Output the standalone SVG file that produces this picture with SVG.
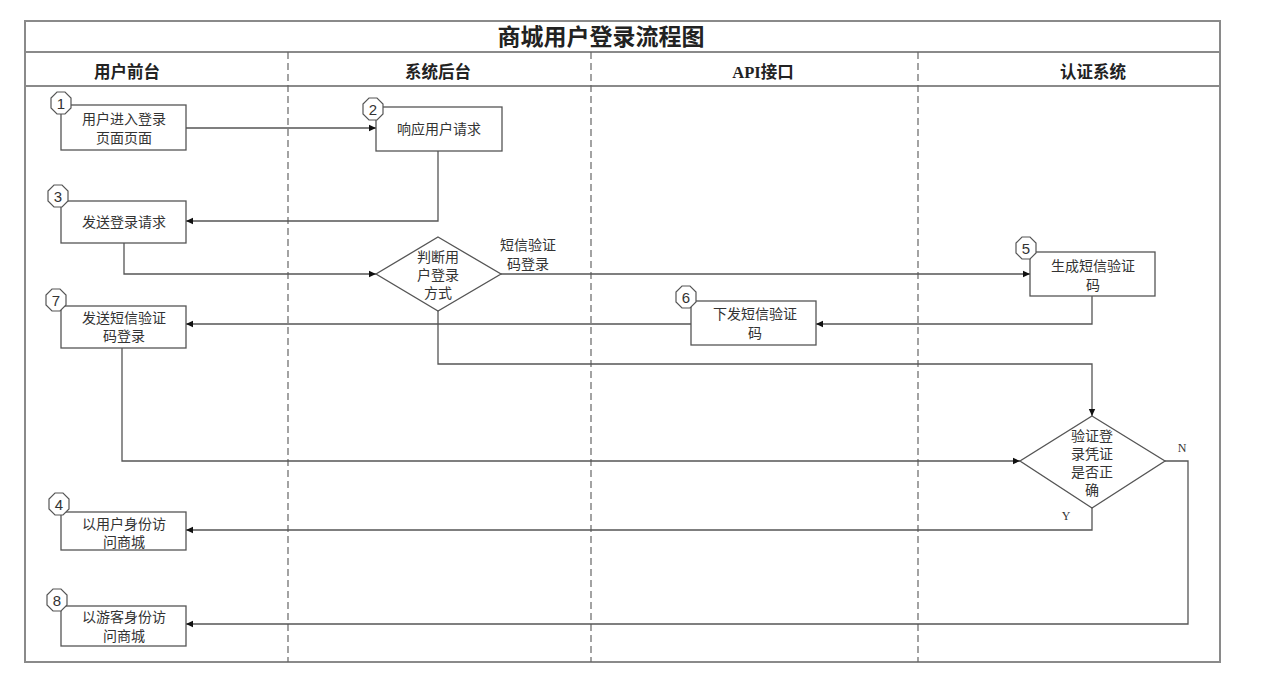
<svg xmlns="http://www.w3.org/2000/svg" width="1274" height="682" viewBox="0 0 1274 682">
<defs>
<marker id="arr" markerWidth="8" markerHeight="8" refX="7" refY="4" orient="auto" markerUnits="userSpaceOnUse">
<path d="M0,0.8 L7,4 L0,7.2 z" fill="#111"/>
</marker>
<polygon id="oct" points="-4,-11 4,-11 10,-5 10,5 4,11 -4,11 -10,5 -10,-5" fill="#fff" stroke="#555" stroke-width="1.2"/>
</defs>
<style>
.frame{fill:none;stroke:#8a8a8a;stroke-width:2}
.sep{stroke:#8a8a8a;stroke-width:2}
.lane{stroke:#666;stroke-width:1.2;stroke-dasharray:7,4}
.box{fill:#fff;stroke:#555;stroke-width:1.3}
.t{font-family:"Noto Sans CJK SC","Liberation Sans",sans-serif;font-size:14px;fill:#333;text-anchor:middle}
.h{font-family:"Liberation Serif","Noto Sans CJK SC",serif;font-weight:bold;font-size:16.5px;fill:#222;text-anchor:middle}
.title{font-family:"Liberation Serif","Noto Sans CJK SC",serif;font-weight:bold;font-size:23px;fill:#222;text-anchor:middle}
.n{font-family:"Liberation Sans",sans-serif;font-size:15px;fill:#333;text-anchor:middle}
.yn{font-family:"Liberation Serif",serif;font-size:12px;fill:#333;text-anchor:middle}
.c{fill:none;stroke:#555;stroke-width:1.3;marker-end:url(#arr)}
</style>
<rect width="1274" height="682" fill="#fff"/>
<g id="frame">
<rect class="frame" x="25" y="21" width="1195" height="641"/>
<line class="sep" x1="25" y1="52" x2="1220" y2="52"/>
<line class="sep" x1="25" y1="86" x2="1220" y2="86"/>
<line class="lane" x1="288" y1="52" x2="288" y2="662"/>
<line class="lane" x1="591" y1="52" x2="591" y2="662"/>
<line class="lane" x1="918" y1="52" x2="918" y2="662"/>
<text class="title" x="601" y="45">商城用户登录流程图</text>
<text class="h" x="127" y="78">用户前台</text>
<text class="h" x="438" y="78">系统后台</text>
<text class="h" x="763" y="78">API接口</text>
<text class="h" x="1093" y="78">认证系统</text>
</g>
<g id="connectors">
<path class="c" d="M186,128 H376"/>
<path class="c" d="M438,151 V221 H186"/>
<path class="c" d="M124,243 V274 H376"/>
<path class="c" d="M501,274 H1030"/>
<path class="c" d="M1092,296 V324 H816"/>
<path class="c" d="M691,324 H186"/>
<path class="c" d="M438,311 V364 H1092 V416"/>
<path class="c" d="M122,348 V461 H1020"/>
<path class="c" d="M1092,508 V530 H186"/>
<path class="c" d="M1165,461 H1188 V624 H186"/>
<text class="t" x="528" y="250">短信验证</text>
<text class="t" x="528" y="269">码登录</text>
<text class="yn" x="1182" y="452">N</text>
<text class="yn" x="1066" y="520">Y</text>
</g>
<g id="node1">
<rect class="box" x="61" y="105" width="125" height="45"/>
<use href="#oct" x="61" y="103"/>
<text class="n" x="61" y="108.5">1</text>
<text class="t" x="124" y="124">用户进入登录</text>
<text class="t" x="124" y="143">页面页面</text>
</g>
<g id="node2">
<rect class="box" x="376" y="107" width="126" height="44"/>
<use href="#oct" x="373" y="109"/>
<text class="n" x="373" y="114.5">2</text>
<text class="t" x="439" y="134">响应用户请求</text>
</g>
<g id="node3">
<rect class="box" x="61" y="201" width="125" height="42"/>
<use href="#oct" x="58" y="196"/>
<text class="n" x="58" y="201.5">3</text>
<text class="t" x="124" y="227">发送登录请求</text>
</g>
<g id="decision1">
<polygon class="box" points="438,237 501,274 438,311 376,274"/>
<text class="t" x="438" y="262">判断用</text>
<text class="t" x="438" y="280">户登录</text>
<text class="t" x="438" y="298">方式</text>
</g>
<g id="node5">
<rect class="box" x="1030" y="252" width="125" height="44"/>
<use href="#oct" x="1026" y="248"/>
<text class="n" x="1026" y="253.5">5</text>
<text class="t" x="1093" y="271">生成短信验证</text>
<text class="t" x="1093" y="290">码</text>
</g>
<g id="node6">
<rect class="box" x="691" y="301" width="125" height="44"/>
<use href="#oct" x="686" y="297"/>
<text class="n" x="686" y="302.5">6</text>
<text class="t" x="755" y="319">下发短信验证</text>
<text class="t" x="755" y="338">码</text>
</g>
<g id="node7">
<rect class="box" x="61" y="306" width="125" height="42"/>
<use href="#oct" x="56" y="300"/>
<text class="n" x="56" y="305.5">7</text>
<text class="t" x="124" y="323">发送短信验证</text>
<text class="t" x="124" y="341">码登录</text>
</g>
<g id="decision2">
<polygon class="box" points="1092,416 1165,461 1092,508 1020,461"/>
<text class="t" x="1092" y="441">验证登</text>
<text class="t" x="1092" y="459">录凭证</text>
<text class="t" x="1092" y="477">是否正</text>
<text class="t" x="1092" y="495">确</text>
</g>
<g id="node4">
<rect class="box" x="61" y="512" width="125" height="38"/>
<use href="#oct" x="59" y="504"/>
<text class="n" x="59" y="509.5">4</text>
<text class="t" x="124" y="529">以用户身份访</text>
<text class="t" x="124" y="547">问商城</text>
</g>
<g id="node8">
<rect class="box" x="61" y="606" width="125" height="40"/>
<use href="#oct" x="57" y="600"/>
<text class="n" x="57" y="605.5">8</text>
<text class="t" x="124" y="622">以游客身份访</text>
<text class="t" x="124" y="641">问商城</text>
</g>
</svg>
